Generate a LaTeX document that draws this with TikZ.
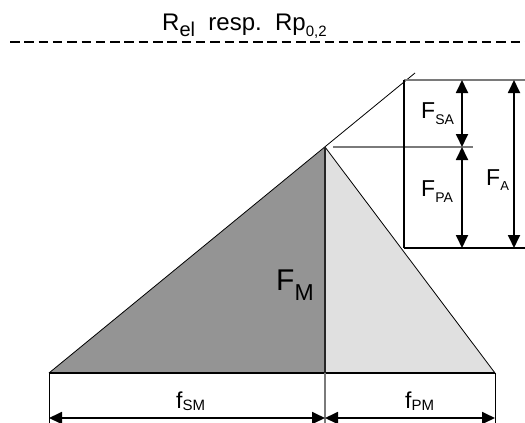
\documentclass[tikz,border=0pt]{standalone}
\usepackage{fontspec}
\setmainfont{Liberation Sans}
\usetikzlibrary{arrows.meta}
\newcommand\fsz[1]{\fontsize{#1}{#1}\selectfont}
\newcommand\lbl[5]{{\fsz{#1}#2}{\fsz{#3}\raisebox{#4}{#5}}}
\definecolor{darkfill}{HTML}{949494}
\definecolor{lightfill}{HTML}{E0E0E0}
\definecolor{thingray}{HTML}{7A7A7A}
\tikzset{
  dimarrow/.style={line width=1.8pt,{Triangle[length=13pt,width=12pt]}-{Triangle[length=13pt,width=12pt]}},
  thinline/.style={line width=0.8pt},
  grayline/.style={line width=1.1pt,draw=thingray},
  txt/.style={inner sep=0pt,anchor=base west},
}
\begin{document}
\begin{tikzpicture}[x=1pt,y=-1pt]
\useasboundingbox (0,0) rectangle (525,423);
% key points
\coordinate (L) at (49,373);
\coordinate (T) at (325,147);
\coordinate (B) at (325,373);
\coordinate (R) at (495,373);
\coordinate (E) at (415,73);
\coordinate (Vt) at (404,80);
\coordinate (Vb) at (404,248);
\coordinate (Ht) at (525,80);
\coordinate (Hb) at (525,248);
\coordinate (Am) at (473,147);
\coordinate (At) at (333,147);
\coordinate (Da) at (10,42);
\coordinate (Db) at (525,42);
% dashed line
\draw[line width=2pt,dash pattern=on 9.5pt off 4.8pt] (Da) -- (Db);
% triangles
\fill[darkfill] (L) -- (T) -- (B) -- cycle;
\fill[lightfill] (T) -- (R) -- (B) -- cycle;
\draw[thinline] (L) -- (E);
\draw[thinline] (T) -- (R);
\draw[line width=1.5pt] (L) -- (R);
\draw[line width=1.6pt,draw=black!85] (T) -- (B);
% right box
\draw[grayline] (At) -- (Am);
\draw[grayline] (Vt) -- (Ht);
\draw[line width=1.3pt] (Vb) -- (Hb);
\draw[line width=2.6pt] (Vt) -- (Vb);
% vertical dimension arrows
\coordinate (a1) at (462,80);
\coordinate (a2) at (462,147);
\coordinate (a3) at (462,248);
\coordinate (b1) at (514,80);
\coordinate (b2) at (514,248);
\draw[dimarrow] (a1) -- (a2);
\draw[dimarrow] (a2) -- (a3);
\draw[dimarrow] (b1) -- (b2);
% bottom extension lines
\coordinate (L2) at (49,423);
\coordinate (B2) at (325,423);
\coordinate (R2) at (495,423);
\draw[thinline] (L) -- (L2);
\draw[grayline] (B) -- (B2);
\draw[thinline] (R) -- (R2);
\coordinate (d1) at (49,418);
\coordinate (d2) at (325,418);
\coordinate (d3) at (495,418);
\draw[dimarrow] (d1) -- (d2);
\draw[dimarrow] (d2) -- (d3);
% labels
\node[txt] (title) at (162,30) {\lbl{24}{R}{20}{-6pt}{el}{\fsz{24}\ \ resp.\ \ Rp}{\fsz{15}\raisebox{-6pt}{0,2}}};
\node[txt] (fsa) at (421,118) {\lbl{23}{F}{14}{-6pt}{SA}};
\node[txt] (fpa) at (421,196) {\lbl{23}{F}{14}{-6pt}{PA}};
\node[txt] (fa) at (486,185) {\lbl{23}{F}{13}{-5pt}{A}};
\node[txt] (fm) at (276,290) {\lbl{30}{F}{23}{-10pt}{M}};
\node[txt] (fsm) at (176,408) {\lbl{23}{f}{15}{-2pt}{SM}};
\node[txt] (fpm) at (405,408) {\lbl{23}{f}{15}{-2pt}{PM}};
\end{tikzpicture}
\end{document}
